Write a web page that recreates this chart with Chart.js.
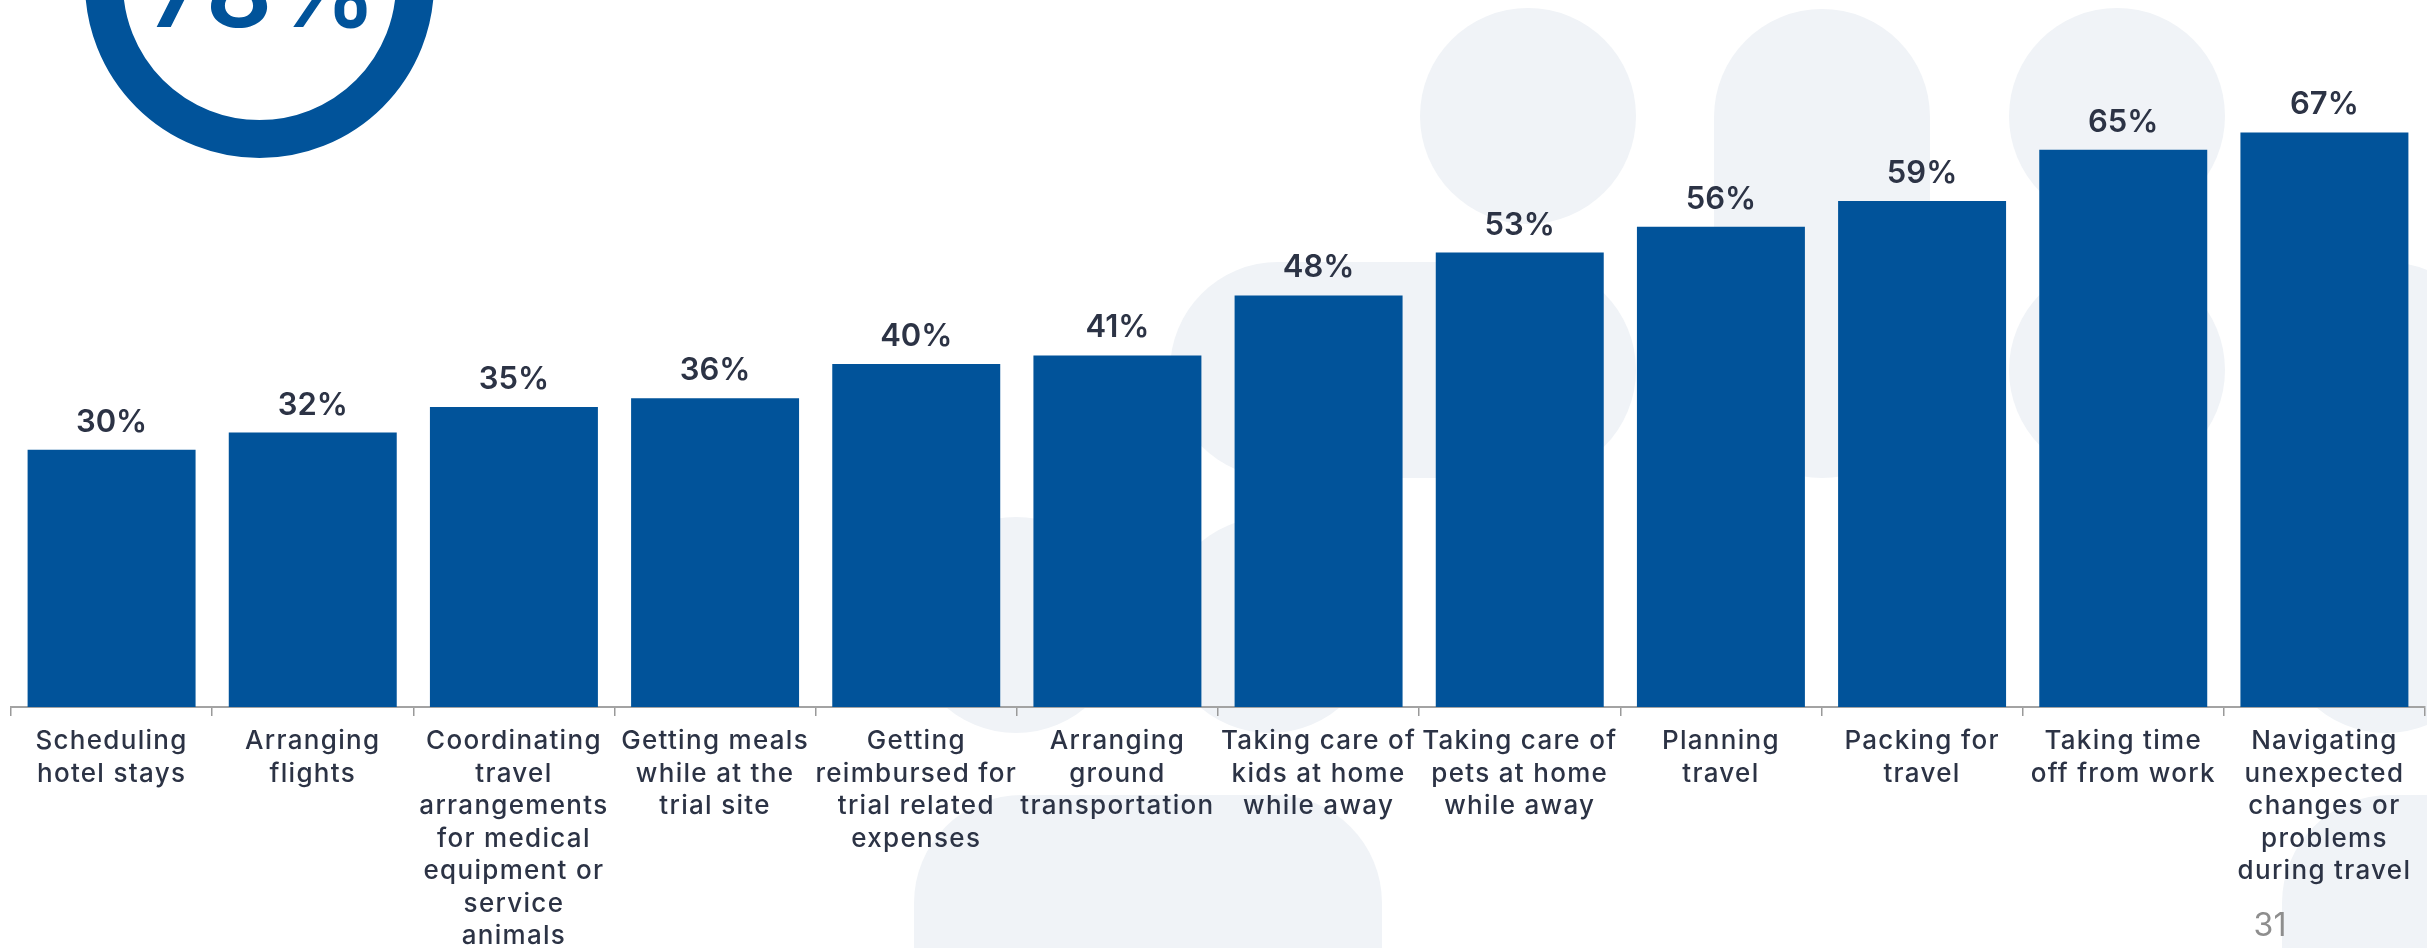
<!DOCTYPE html>
<html>
<head>
<meta charset="utf-8">
<script src="https://cdn.jsdelivr.net/npm/chart.js@4.4.1/dist/chart.umd.min.js"></script>
<style>
  html, body { margin: 0; padding: 0; background: #ffffff; }
  #wrap { position: relative; width: 2427px; height: 948px; overflow: hidden; }
  canvas { display: block; }
</style>
</head>
<body>
<div id="wrap"><canvas id="chart" width="2427" height="948"></canvas></div>
<script>
// Travel-related tasks and the share of respondents who found each one a burden
const categories = [
  ["Scheduling", "hotel stays"],
  ["Arranging", "flights"],
  ["Coordinating", "travel", "arrangements", "for medical", "equipment or", "service", "animals"],
  ["Getting meals", "while at the", "trial site"],
  ["Getting", "reimbursed for", "trial related", "expenses"],
  ["Arranging", "ground", "transportation"],
  ["Taking care of", "kids at home", "while away"],
  ["Taking care of", "pets at home", "while away"],
  ["Planning", "travel"],
  ["Packing for", "travel"],
  ["Taking time", "off from work"],
  ["Navigating", "unexpected", "changes or", "problems", "during travel"]
];
const percentValues = [30, 32, 35, 36, 40, 41, 48, 53, 56, 59, 65, 67];
const headlineValue = "78%";
const pageNumber = "31";

const BLUE = "#01539a";
const TEXT = "#2c3345";
const PALE = "#f0f3f7";
const FONT = "Inter, 'Open Sans', sans-serif";

// Soft rounded shapes behind the plot, plus the headline ring in the corner
const backdrop = {
  id: "backdrop",
  beforeDraw(chart) {
    const ctx = chart.ctx;
    ctx.save();
    ctx.fillStyle = "#ffffff";
    ctx.fillRect(0, 0, chart.width, chart.height);
    ctx.fillStyle = PALE;
    const pills = [
      [1420, 8, 216, 216],
      [1714, 9, 216, 469],
      [2009, 8, 216, 216],
      [2009, 262, 216, 216],
      [1170, 262, 466, 216],
      [908, 517, 216, 216],
      [1162, 517, 216, 216],
      [914, 795, 468, 330],
      [2278, 262, 216, 471],
      [2282, 795, 420, 330]
    ];
    for (const [x, y, w, h] of pills) {
      ctx.beginPath();
      ctx.roundRect(x, y, w, h, 108);
      ctx.fill();
    }
    // headline ring
    ctx.beginPath();
    ctx.arc(259.5, -16.5, 155.5, 0, Math.PI * 2);
    ctx.lineWidth = 38;
    ctx.strokeStyle = BLUE;
    ctx.stroke();
    ctx.fillStyle = BLUE;
    ctx.font = "600 104px " + FONT;
    ctx.textAlign = "center";
    ctx.textBaseline = "alphabetic";
    ctx.fillText(headlineValue, 262, 27);
    // page number
    ctx.fillStyle = "#8e8e8e";
    ctx.font = "400 32px " + FONT;
    ctx.fillText(pageNumber, 2270, 936);
    ctx.restore();
    // wider tracking for the category labels drawn next
    ctx.letterSpacing = "1.3px";
  }
};

// Percentage printed above each bar
const valueLabels = {
  id: "valueLabels",
  afterDatasetsDraw(chart) {
    const ctx = chart.ctx;
    const meta = chart.getDatasetMeta(0);
    ctx.save();
    ctx.letterSpacing = "0px";
    ctx.fillStyle = TEXT;
    ctx.font = "600 31px " + FONT;
    ctx.textAlign = "center";
    ctx.textBaseline = "alphabetic";
    meta.data.forEach((bar, i) => {
      ctx.fillText(percentValues[i] + "%", bar.x, bar.y - 18);
    });
    ctx.restore();
  }
};

new Chart(document.getElementById("chart"), {
  type: "bar",
  data: {
    labels: categories,
    datasets: [{
      data: percentValues,
      backgroundColor: BLUE,
      borderWidth: 0,
      categoryPercentage: 1.0,
      barPercentage: 0.835
    }]
  },
  options: {
    responsive: false,
    animation: false,
    devicePixelRatio: 1,
    layout: { padding: { left: 11, right: 2, top: 21, bottom: 0 } },
    plugins: { legend: { display: false }, tooltip: { enabled: false } },
    scales: {
      x: {
        offset: true,
        grid: {
          display: true,
          offset: true,
          drawOnChartArea: false,
          drawTicks: true,
          tickLength: 9,
          color: "#9a9a9a",
          lineWidth: 1.5
        },
        border: { display: true, color: "#a3a3a3", width: 2 },
        ticks: {
          color: TEXT,
          autoSkip: false,
          maxRotation: 0,
          minRotation: 0,
          padding: 9,
          font: { family: FONT, size: 26, weight: "500", lineHeight: 1.25 }
        },
        afterFit(scale) { scale.height = 241; }
      },
      y: { display: false, min: 0, max: 80 }
    }
  },
  plugins: [backdrop, valueLabels]
});
</script>
</body>
</html>
